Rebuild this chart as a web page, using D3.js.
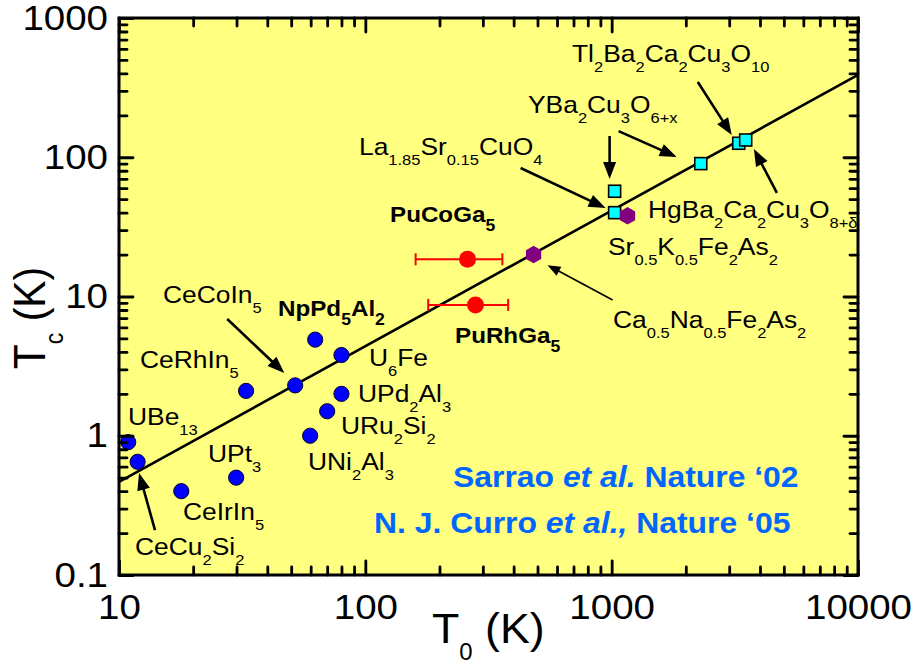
<!DOCTYPE html>
<html>
<head>
<meta charset="utf-8">
<script src="https://cdn.jsdelivr.net/npm/d3@7"></script>
<style>
  body { margin: 0; background: #fff; }
  svg { display: block; }
  text { font-family: "Liberation Sans", Arial, Helvetica, sans-serif; fill: #000; }
</style>
</head>
<body>
<svg id="chart" width="914" height="663"></svg>
<script>
// ---- data -------------------------------------------------------------
// heavy-fermion compounds (blue circles)
const hfNames = ["UBe13", "CeCu2Si2", "CeIrIn5", "UPt3", "CeRhIn5", "CeCoIn5",
                 "NpPd5Al2", "U6Fe", "UPd2Al3", "URu2Si2", "UNi2Al3"];
const hfT0 = [10.9, 11.9, 17.9, 29.9, 32.8, 51.9, 62.6, 80, 80, 70, 59.7];
const hfTc = [0.90, 0.65, 0.40, 0.50, 2.1, 2.3, 4.9, 3.8, 2.0, 1.5, 1.0];

// Pu-115 compounds (red circles with T0 uncertainty)
const puNames = ["PuCoGa5", "PuRhGa5"];
const puT0 = [260, 280];
const puT0Err = [100, 100];
const puTc = [18.5, 8.7];

// cuprates (cyan squares)
const cuNames = ["La1.85Sr0.15CuO4", "YBa2Cu3O6+x", "YBa2Cu3O6+x", "Tl2Ba2Ca2Cu3O10", "HgBa2Ca2Cu3O8+d"];
const cuT0 = [1028, 1028, 2300, 3280, 3500];
const cuTc = [40, 57, 90, 126, 133];

// iron pnictides (purple hexagons)
const feNames = ["Ca0.5Na0.5Fe2As2", "Sr0.5K0.5Fe2As2"];
const feT0 = [482, 1160];
const feTc = [20, 38];

// scaling line Tc ~ T0
const fitT0 = [10, 10000];
const fitTc = [0.466, 390];

// axis ticks
const xTicks = [10, 100, 1000, 10000];
const xTickLabels = ["10", "100", "1000", "10000"];
const yTicks = [0.1, 1, 10, 100, 1000];
const yTickLabels = ["0.1", "1", "10", "100", "1000"];

// annotation arrows, [T0, Tc] of tail and of head
const arrowFrom = [[27.5, 6.89], [14.0, 0.21], [427, 83.7], [981, 142], [1067, 154], [2237, 347], [4686, 55.4], [1009, 9.44]];
const arrowTo   = [[46.9, 2.82], [12.06, 0.54], [945, 43.2], [981, 69.8], [1837, 100.4], [3074, 144.5], [3779, 114.6], [549, 16.8]];
const arrowThin = [false, false, false, false, false, false, false, true];

// compound labels (markup: _{...} = subscript)
const labelText = [
  "UBe_{13}", "CeRhIn_{5}", "CeCoIn_{5}", "NpPd_{5}Al_{2}", "U_{6}Fe", "UPd_{2}Al_{3}",
  "URu_{2}Si_{2}", "UNi_{2}Al_{3}", "UPt_{3}", "CeIrIn_{5}", "CeCu_{2}Si_{2}",
  "PuCoGa_{5}", "PuRhGa_{5}", "La_{1.85}Sr_{0.15}CuO_{4}", "YBa_{2}Cu_{3}O_{6+x}",
  "Tl_{2}Ba_{2}Ca_{2}Cu_{3}O_{10}", "HgBa_{2}Ca_{2}Cu_{3}O_{8+δ}",
  "Sr_{0.5}K_{0.5}Fe_{2}As_{2}", "Ca_{0.5}Na_{0.5}Fe_{2}As_{2}"
];
const labelBold = [false, false, false, true, false, false, false, false, false, false, false,
                   true, true, false, false, false, false, false, false];

// ---- layout -----------------------------------------------------------
const plot = { left: 119, right: 858, top: 18, bottom: 575 };
const labelPos = [
  [128, 425], [140, 368], [163, 303], [278, 316], [369, 366], [358, 402],
  [341, 434], [308, 470], [208, 462], [183, 520], [135, 555],
  [390, 222], [455, 343], [359, 155], [528, 113],
  [572, 62], [648, 218], [608, 255], [613, 328]
];
const SX = 1.1; // horizontal text stretch

const svg = d3.select("#chart");
const x = d3.scaleLog().domain([10, 10000]).range([plot.left, plot.right]);
const y = d3.scaleLog().domain([0.1, 1000]).range([plot.bottom, plot.top]);

// plot background
svg.append("rect")
  .attr("x", plot.left).attr("y", plot.top)
  .attr("width", plot.right - plot.left).attr("height", plot.bottom - plot.top)
  .attr("fill", "#ffff80");

// scaling line
svg.append("path")
  .datum(fitT0.map((d, i) => [d, fitTc[i]]))
  .attr("fill", "none").attr("stroke", "#000").attr("stroke-width", 2.6)
  .attr("d", d3.line().x(d => x(d[0])).y(d => y(d[1])));

// arrows
const arrows = svg.append("g");
arrowFrom.forEach((a, i) => {
  const x0 = x(a[0]), y0 = y(a[1]);
  const x1 = x(arrowTo[i][0]), y1 = y(arrowTo[i][1]);
  const thin = arrowThin[i];
  const len = thin ? 13 : 17, half = thin ? 5 : 6.5;
  const dx = x1 - x0, dy = y1 - y0, L = Math.hypot(dx, dy);
  const ux = dx / L, uy = dy / L;
  const bx = x1 - ux * len, by = y1 - uy * len;
  arrows.append("line")
    .attr("x1", x0).attr("y1", y0).attr("x2", bx + ux * 2).attr("y2", by + uy * 2)
    .attr("stroke", "#000").attr("stroke-width", thin ? 1.6 : 2.6);
  arrows.append("path")
    .attr("d", `M${x1},${y1}L${bx - uy * half},${by + ux * half}L${bx + uy * half},${by - ux * half}Z`)
    .attr("fill", "#000");
});

// Pu error bars
const eb = svg.append("g").attr("stroke", "#ff0000").attr("stroke-width", 2);
puT0.forEach((t, i) => {
  const yy = y(puTc[i]);
  const xa = x(t - puT0Err[i]), xb = x(t + puT0Err[i]);
  eb.append("line").attr("x1", xa).attr("x2", xb).attr("y1", yy).attr("y2", yy);
  eb.append("line").attr("x1", xa).attr("x2", xa).attr("y1", yy - 6).attr("y2", yy + 6);
  eb.append("line").attr("x1", xb).attr("x2", xb).attr("y1", yy - 6).attr("y2", yy + 6);
});

// heavy-fermion circles
svg.append("g").selectAll("circle")
  .data(hfT0.map((d, i) => [d, hfTc[i]]))
  .join("circle")
  .attr("cx", d => x(d[0])).attr("cy", d => y(d[1])).attr("r", 7.6)
  .attr("fill", "#0000ff").attr("stroke", "#000033").attr("stroke-width", 1);

// Pu circles
svg.append("g").selectAll("circle")
  .data(puT0.map((d, i) => [d, puTc[i]]))
  .join("circle")
  .attr("cx", d => x(d[0])).attr("cy", d => y(d[1])).attr("r", 8.5)
  .attr("fill", "#ff0000");

// cuprate squares
svg.append("g").selectAll("rect")
  .data(cuT0.map((d, i) => [d, cuTc[i]]))
  .join("rect")
  .attr("x", d => x(d[0]) - 6).attr("y", d => y(d[1]) - 6)
  .attr("width", 12).attr("height", 12)
  .attr("fill", "#00ffff").attr("stroke", "#000").attr("stroke-width", 1.6);

// pnictide hexagons
const hexagon = {
  draw(ctx, size) {
    const r = Math.sqrt(size / (1.5 * Math.sqrt(3)));
    for (let k = 0; k < 6; k++) {
      const a = -Math.PI / 2 + k * Math.PI / 3;
      const px = r * Math.cos(a), py = r * Math.sin(a);
      if (k === 0) ctx.moveTo(px, py); else ctx.lineTo(px, py);
    }
    ctx.closePath();
  }
};
svg.append("g").selectAll("path")
  .data(feT0.map((d, i) => [d, feTc[i]]))
  .join("path")
  .attr("transform", d => `translate(${x(d[0])},${y(d[1])})`)
  .attr("d", d3.symbol(hexagon, 200)())
  .attr("fill", "#800080");

// ---- axes ---------------------------------------------------------------
const isMajor = d => Math.abs(Math.log10(d) - Math.round(Math.log10(d))) < 1e-6;
const xMinor = x.ticks().filter(d => !isMajor(d));
const yMinor = y.ticks().filter(d => !isMajor(d));

function styleAxis(g) {
  g.select(".domain").remove();
  g.selectAll(".tick line").attr("stroke", "#000").attr("stroke-width", 2.8).attr("stroke-linecap", "round");
  g.selectAll(".tick text")
    .attr("font-size", 35).attr("font-family", "Liberation Sans, Arial, sans-serif")
    .attr("fill", "#000");
}

// left
svg.append("g").attr("transform", `translate(${plot.left},0)`)
  .call(d3.axisLeft(y).tickValues(yTicks).tickSize(-14).tickPadding(10)
    .tickFormat((d, i) => yTickLabels[i]))
  .call(styleAxis)
  .call(g => g.selectAll(".tick text").attr("transform", `scale(${SX},1)`));
svg.append("g").attr("transform", `translate(${plot.left},0)`)
  .call(d3.axisLeft(y).tickValues(yMinor).tickSize(-8).tickFormat(""))
  .call(styleAxis);
// right
svg.append("g").attr("transform", `translate(${plot.right},0)`)
  .call(d3.axisRight(y).tickValues(yTicks).tickSize(-14).tickFormat(""))
  .call(styleAxis);
svg.append("g").attr("transform", `translate(${plot.right},0)`)
  .call(d3.axisRight(y).tickValues(yMinor).tickSize(-8).tickFormat(""))
  .call(styleAxis);
// bottom
svg.append("g").attr("transform", `translate(0,${plot.bottom})`)
  .call(d3.axisBottom(x).tickValues(xTicks).tickSize(-14).tickPadding(19)
    .tickFormat((d, i) => xTickLabels[i]))
  .call(styleAxis)
  .call(g => g.selectAll(".tick text").attr("transform", `scale(${SX},1)`));
svg.append("g").attr("transform", `translate(0,${plot.bottom})`)
  .call(d3.axisBottom(x).tickValues(xMinor).tickSize(-8).tickFormat(""))
  .call(styleAxis);
// top
svg.append("g").attr("transform", `translate(0,${plot.top})`)
  .call(d3.axisTop(x).tickValues(xTicks).tickSize(-14).tickFormat(""))
  .call(styleAxis);
svg.append("g").attr("transform", `translate(0,${plot.top})`)
  .call(d3.axisTop(x).tickValues(xMinor).tickSize(-8).tickFormat(""))
  .call(styleAxis);

// frame
svg.append("rect")
  .attr("x", plot.left).attr("y", plot.top)
  .attr("width", plot.right - plot.left).attr("height", plot.bottom - plot.top)
  .attr("fill", "none").attr("stroke", "#000").attr("stroke-width", 3);

// ---- text -------------------------------------------------------------
// writes "A_{b}C" style markup as tspans with lowered subscripts
function richText(parent, str, opt) {
  const t = parent.append("text")
    .attr("font-size", opt.size)
    .attr("font-weight", opt.bold ? "bold" : "normal")
    .attr("text-anchor", opt.anchor || "start");
  const parts = str.split(/_\{([^}]*)\}/);
  let cur = 0;
  parts.forEach((p, k) => {
    if (!p) return;
    const sub = k % 2 === 1;
    const target = sub ? opt.shift : 0;
    t.append("tspan")
      .attr("font-size", sub ? opt.subSize : opt.size)
      .attr("dy", target - cur)
      .text(p);
    cur = target;
  });
  return t;
}

const labels = svg.append("g");
labelText.forEach((s, i) => {
  const g = labels.append("g")
    .attr("transform", `translate(${labelPos[i][0]},${labelPos[i][1]}) scale(${SX},1)`);
  const bold = labelBold[i];
  richText(g, s, { size: bold ? 22 : 24, subSize: bold ? 16 : 15, shift: bold ? 9 : 10, bold });
});

// axis titles
const xt = svg.append("g").attr("transform", `translate(432,643) scale(1.04,1)`);
richText(xt, "T_{0} (K)", { size: 43, subSize: 23, shift: 17 });

const yt = svg.append("g").attr("transform", `translate(45,318) scale(${SX},1) rotate(-90)`);
richText(yt, "T_{c} (K)", { size: 41, subSize: 23, shift: 16, anchor: "middle" });

// references
const refs = svg.append("g");
const ref1 = refs.append("g").attr("transform", `translate(453,487) scale(${SX},1)`)
  .append("text").attr("font-size", 29).attr("font-weight", "bold").style("fill", "#0066ff");
ref1.append("tspan").text("Sarrao ");
ref1.append("tspan").attr("font-style", "italic").text("et al.");
ref1.append("tspan").text(" Nature \u201802");
const ref2 = refs.append("g").attr("transform", `translate(374,533) scale(${SX},1)`)
  .append("text").attr("font-size", 29).attr("font-weight", "bold").style("fill", "#0066ff");
ref2.append("tspan").text("N. J. Curro ");
ref2.append("tspan").attr("font-style", "italic").text("et al.,");
ref2.append("tspan").text(" Nature \u201805");
</script>
</body>
</html>
